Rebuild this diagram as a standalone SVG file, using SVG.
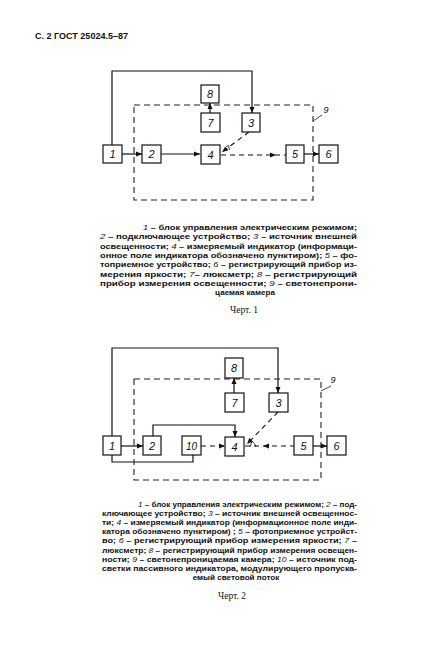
<svg xmlns="http://www.w3.org/2000/svg" width="439" height="651" viewBox="0 0 439 651">
<style>
.box{fill:#fff;stroke:#111;stroke-width:1.2}
.ln{fill:none;stroke:#111;stroke-width:1.2}
.dl{fill:none;stroke:#111;stroke-width:1.1;stroke-dasharray:5 4}
.frame{fill:none;stroke:#222;stroke-width:1.1;stroke-dasharray:6 4}
.num{font-family:"Liberation Sans",Arial,sans-serif;font-style:italic;font-size:11px;fill:#111;text-anchor:middle}
.cap{font-family:"Liberation Sans",Arial,sans-serif;font-weight:bold;font-size:8.1px;fill:#111}
.cap tspan.i{font-style:italic;font-weight:normal}
.fig{font-family:"Liberation Serif","Times New Roman",serif;font-size:9.5px;fill:#111;text-anchor:middle}
.hdr{font-family:"Liberation Sans",Arial,sans-serif;font-weight:bold;font-size:8.5px;fill:#111}
.head{fill:#111}
</style>
<defs>
<marker id="ah" markerUnits="userSpaceOnUse" markerWidth="8" markerHeight="6" refX="6" refY="3" orient="auto">
<path d="M0,0.5 L6,3 L0,5.5 Z" class="head"/>
</marker>
</defs>

<text class="hdr" x="35" y="39" textLength="93" lengthAdjust="spacingAndGlyphs">С. 2 ГОСТ 25024.5–87</text>

<!-- Diagram 1 -->
<g id="d1-frame9"><rect class="frame" x="134" y="105" width="179" height="95"/></g>
<g id="d1-connectors">
<path class="ln" d="M112,145 V71 H252 V113" marker-end="url(#ah)"/>
<path class="ln" d="M122,154 H142" marker-end="url(#ah)"/>
<path class="ln" d="M161,154 H200" marker-end="url(#ah)"/>
<path class="ln" d="M210,113 V103" marker-end="url(#ah)"/>
<path class="dl" d="M249,132 L222,152" marker-end="url(#ah)"/>
<path class="dl" d="M221,155 H286"/>
<path class="head" d="M270,152.5 L276,155 L270,157.5 Z"/>
<path class="ln" d="M304,154 H319" marker-end="url(#ah)"/>
<path class="ln" d="M226,146.5 L228.5,145.5 L229.5,150" style="stroke-width:0.8"/>
<path class="ln" d="M313,121 L322,115" style="stroke-width:0.8"/>
</g>
<g id="d1-n1"><rect class="box" x="103" y="145" width="19" height="18"/><text class="num" x="112.5" y="158">1</text></g>
<g id="d1-n2"><rect class="box" x="142" y="145" width="19" height="18"/><text class="num" x="151.5" y="158">2</text></g>
<g id="d1-n4"><rect class="box" x="201" y="145" width="19" height="19"/><text class="num" x="210.5" y="158.5">4</text></g>
<g id="d1-n5"><rect class="box" x="286" y="145" width="18" height="18"/><text class="num" x="295" y="158">5</text></g>
<g id="d1-n6"><rect class="box" x="319" y="145" width="19" height="18"/><text class="num" x="328.5" y="158">6</text></g>
<g id="d1-n8"><rect class="box" x="201" y="85" width="18" height="18"/><text class="num" x="210" y="98">8</text></g>
<g id="d1-n7"><rect class="box" x="201" y="113" width="19" height="19"/><text class="num" x="210.5" y="126.5">7</text></g>
<g id="d1-n3"><rect class="box" x="242" y="113" width="18" height="19"/><text class="num" x="251" y="126.5">3</text></g>
<g id="d1-label9"><text class="num" style="font-size:9px" x="326" y="113">9</text></g>

<g id="d1-caption">
<text class="cap" x="143" y="230" textLength="214" lengthAdjust="spacingAndGlyphs"><tspan class="i">1</tspan> – блок управления электрическим режимом;</text>
<text class="cap" x="100" y="239.3" textLength="257" lengthAdjust="spacingAndGlyphs"><tspan class="i">2</tspan> – подключающее устройство; <tspan class="i">3</tspan> – источник внешней</text>
<text class="cap" x="100" y="248.6" textLength="257" lengthAdjust="spacingAndGlyphs">освещенности; <tspan class="i">4</tspan> – измеряемый индикатор (информаци-</text>
<text class="cap" x="100" y="257.9" textLength="257" lengthAdjust="spacingAndGlyphs">онное поле индикатора обозначено пунктиром); <tspan class="i">5</tspan> – фо-</text>
<text class="cap" x="100" y="267.2" textLength="257" lengthAdjust="spacingAndGlyphs">топриемное устройство; <tspan class="i">6</tspan> – регистрирующий прибор из-</text>
<text class="cap" x="100" y="276.5" textLength="257" lengthAdjust="spacingAndGlyphs">мерения яркости; <tspan class="i">7</tspan>– люксметр; <tspan class="i">8</tspan> – регистрирующий</text>
<text class="cap" x="100" y="285.8" textLength="257" lengthAdjust="spacingAndGlyphs">прибор измерения освещенности; <tspan class="i">9</tspan> – светонепрони-</text>
<text class="cap" x="245" y="295" text-anchor="middle">цаемая камера</text>
<text class="fig" x="244" y="313">Черт. 1</text>
</g>

<!-- Diagram 2 -->
<g id="d2-frame9"><rect class="frame" x="134" y="379" width="187" height="101"/></g>
<g id="d2-connectors">
<path class="ln" d="M112,436 V348 H278 V393" marker-end="url(#ah)"/>
<path class="ln" d="M121,446 H143" marker-end="url(#ah)"/>
<path class="ln" d="M153,436 V425 H235 V437" marker-end="url(#ah)"/>
<path class="ln" d="M112,455 V462 H193 V455"/>
<path class="dl" d="M201,446 H225" marker-end="url(#ah)"/>
<path class="ln" d="M234,393 V378" marker-end="url(#ah)"/>
<path class="dl" d="M278,412 L247,444" marker-end="url(#ah)"/>
<path class="dl" d="M245,446 H294"/>
<path class="head" d="M269,443.5 L263,446 L269,448.5 Z"/>
<path class="ln" d="M313,446 H327" marker-end="url(#ah)"/>
<path class="ln" d="M250,447 L252,441 Q255,443 256,447" style="stroke-width:0.8"/>
<path class="ln" d="M321,391 L331,386" style="stroke-width:0.8"/>
</g>
<g id="d2-n1"><rect class="box" x="103" y="436" width="18" height="19"/><text class="num" x="112" y="449.5">1</text></g>
<g id="d2-n2"><rect class="box" x="143" y="436" width="18" height="19"/><text class="num" x="152" y="449.5">2</text></g>
<g id="d2-n10"><rect class="box" x="182" y="436" width="19" height="19"/><text class="num" x="191.5" y="449.5" style="font-size:10px">10</text></g>
<g id="d2-n4"><rect class="box" x="225" y="437" width="19" height="19"/><text class="num" x="234.5" y="450.5">4</text></g>
<g id="d2-n5"><rect class="box" x="294" y="436" width="19" height="19"/><text class="num" x="303.5" y="449.5">5</text></g>
<g id="d2-n6"><rect class="box" x="327" y="436" width="19" height="19"/><text class="num" x="336.5" y="449.5">6</text></g>
<g id="d2-n8"><rect class="box" x="225" y="358" width="18" height="20"/><text class="num" x="234" y="372">8</text></g>
<g id="d2-n7"><rect class="box" x="225" y="393" width="19" height="19"/><text class="num" x="234.5" y="406.5">7</text></g>
<g id="d2-n3"><rect class="box" x="269" y="393" width="19" height="19"/><text class="num" x="278.5" y="406.5">3</text></g>
<g id="d2-label9"><text class="num" style="font-size:9px" x="333" y="383">9</text></g>

<g id="d2-caption">
<text class="cap" x="138" y="507" textLength="219" lengthAdjust="spacingAndGlyphs"><tspan class="i">1</tspan> – блок управления электрическим режимом; <tspan class="i">2</tspan> – под-</text>
<text class="cap" x="102" y="516.1" textLength="255" lengthAdjust="spacingAndGlyphs">ключающее устройство;  <tspan class="i">3</tspan> – источник внешней освещеннос-</text>
<text class="cap" x="102" y="525.2" textLength="255" lengthAdjust="spacingAndGlyphs">ти; <tspan class="i">4</tspan> – измеряемый индикатор  (информационное поле инди-</text>
<text class="cap" x="102" y="534.3" textLength="255" lengthAdjust="spacingAndGlyphs">катора обозначено пунктиром) ; <tspan class="i">5</tspan> – фотоприемное устройст-</text>
<text class="cap" x="102" y="543.4" textLength="255" lengthAdjust="spacingAndGlyphs">во; <tspan class="i">6</tspan> – регистрирующий прибор измерения яркости; <tspan class="i">7</tspan> –</text>
<text class="cap" x="102" y="552.5" textLength="255" lengthAdjust="spacingAndGlyphs">люксметр; <tspan class="i">8</tspan> – регистрирующий прибор измерения освещен-</text>
<text class="cap" x="102" y="561.6" textLength="255" lengthAdjust="spacingAndGlyphs">ности; <tspan class="i">9</tspan> – светонепроницаемая камера; <tspan class="i">10</tspan> – источник под-</text>
<text class="cap" x="102" y="570.7" textLength="255" lengthAdjust="spacingAndGlyphs">светки пассивного индикатора, модулирующего пропуска-</text>
<text class="cap" x="236" y="580" text-anchor="middle">емый световой поток</text>
<text class="fig" x="232" y="599">Черт. 2</text>
</g>
</svg>
